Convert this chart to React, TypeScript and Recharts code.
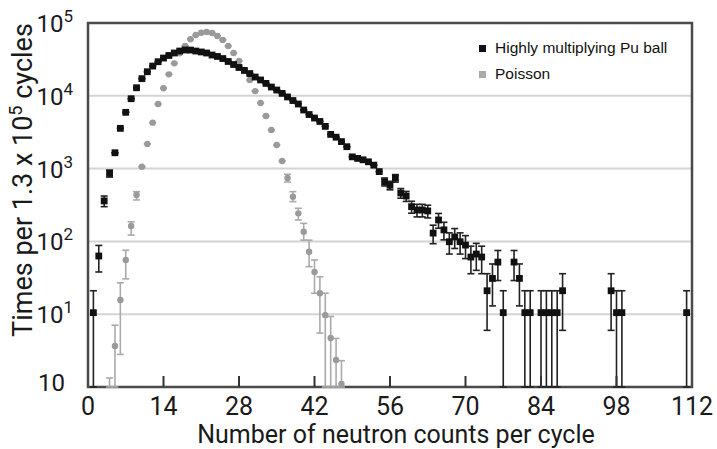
import React from 'react';
import {
  ScatterChart,
  Scatter,
  XAxis,
  YAxis,
  CartesianGrid,
  ErrorBar,
  ReferenceArea,
  Legend,
} from 'recharts';

// Highly multiplying Pu ball (black squares)
const puCounts = [
  1, 2, 3, 4, 5, 6, 7, 8, 9, 10, 11, 12, 13, 14, 15, 16, 17, 18, 19, 20,
  21, 22, 23, 24, 25, 26, 27, 28, 29, 30, 31, 32, 33, 34, 35, 36, 37, 38, 39, 40,
  41, 42, 43, 44, 45, 46, 47, 48, 49, 50, 51, 52, 53, 54, 55, 56, 57, 58, 59, 60,
  61, 62, 63, 64, 65, 66, 67, 68, 69, 70, 71, 72, 73, 74, 75, 76, 77, 79, 80, 81,
  82, 84, 85, 86, 87, 88, 97, 98, 99, 111,
];
const puTimes = [
  10.5, 63, 360, 860, 1650, 3570, 5930, 9120, 12900, 17200, 21400, 25600, 29400, 33000, 35800, 38700, 41200, 42600, 42500, 41200,
  40000, 38700, 36300, 34700, 32500, 29600, 26900, 24500, 22300, 20200, 18100, 16500, 14800, 13200, 12000, 10800, 9640, 8610, 7710, 6380,
  5530, 4950, 4440, 3800, 2950, 2700, 2350, 2000, 1450, 1380, 1320, 1240, 1115, 910, 660, 590, 740, 462, 420, 300,
  270, 270, 262, 130, 197, 144, 99, 115, 99, 89, 61, 67, 61, 21, 31, 52, 10.5, 52, 31, 10.5,
  10.5, 10.5, 10.5, 10.5, 10.5, 21, 21, 10.5, 10.5, 10.5,
];
const puErr: (number | null)[] = [
  10.5, 25, 60, 95, null, null, null, null, null, null, null, null, null, null, null, null, null, null, null, null,
  null, null, null, null, null, null, null, null, null, null, null, null, null, null, null, null, null, null, null, null,
  null, null, null, null, null, null, null, null, null, null, null, null, null, null, 83, 79, 88, 70, 66, 56,
  53, 53, 52, 37, 45, 39, 32, 35, 32, 31, 25, 27, 25, 15, 18, 23, 10.5, 23, 18, 10.5,
  10.5, 10.5, 10.5, 10.5, 10.5, 15, 15, 10.5, 10.5, 10.5,
];

// Poisson (grey dots)
const poCounts = [
  4, 5, 6, 7, 8, 9, 10, 11, 12, 13, 14, 15, 16, 17, 18, 19, 20, 21, 22, 23, 24, 25,
  26, 27, 28, 29, 30, 31, 32, 33, 34, 35, 36, 37, 38, 39, 40, 41, 42, 43, 44, 45, 46, 47,
];
const poTimes = [
  0.13, 3.66, 15.7, 55.6, 163, 433, 1060, 2180, 4280, 7710, 12700, 19700, 27900, 38400, 48300, 59700, 68400, 73600, 75200, 72900, 66300, 58400,
  48300, 38700, 30000, 22600, 16500, 11600, 7960, 5280, 3390, 2110, 1270, 745, 411, 243, 136, 72, 38, 19.4, 9.7, 4.7, 2.35, 1.1,
];
const poErrLow: (number | null)[] = [
  0, 3.66, 12.9, 25, 41, 62, null, null, null, null, null, null, null, null, null, null, null, null, null, null, null, null,
  null, null, null, null, null, null, null, null, null, null, null, 90, 59, 46, 32, 27, 18.6, 13.9, 9.7, 4.7, 2.35, 1.1,
];
const poErrHigh: (number | null)[] = [
  1.2, 3.4, 11.3, 20, 23, 49, null, null, null, null, null, null, null, null, null, null, null, null, null, null, null, null,
  null, null, null, null, null, null, null, null, null, null, null, 90, 71, 42, 41, 32, 17.6, 13.3, 9.7, 4.6, 2.3, 1.2,
];

const xTicks = [0, 14, 28, 42, 56, 70, 84, 98, 112];
const yTicks = [1, 10, 100, 1000, 10000, 100000];
const superDigits: Record<number, string> = { 1: '1', 2: '2', 3: '3', 4: '4', 5: '5' };

// error bars that run below the axis floor stop at the floor
const FLOOR = 1;
const clampLow = (v: number, lo: number) => (v - lo < FLOOR ? v - FLOOR : lo);

const puData = puCounts.map((x, i) => {
  const e = puErr[i];
  return { x, y: puTimes[i], err: e == null ? [0, 0] : [clampLow(puTimes[i], e), e] };
});
const poData = poCounts.map((x, i) => {
  const lo = poErrLow[i];
  const hi = poErrHigh[i];
  return { x, y: poTimes[i], err: lo == null || hi == null ? [0, 0] : [clampLow(poTimes[i], lo), hi] };
});

const FONT = 'Roboto, "Noto Sans", sans-serif';

const Square = (p: any) => (
  <rect x={p.cx - 3.4} y={p.cy - 3.4} width={6.8} height={6.8} fill="#111" />
);
const Dot = (p: any) => <circle cx={p.cx} cy={p.cy} r={3.2} fill="#9a9a9a" />;

const XTick = ({ x, y, payload }: any) => (
  <g>
    {payload.value > 0 && payload.value < 112 && (
      <line x1={x} x2={x} y1={y} y2={y - 11} stroke="#333" strokeWidth={2} />
    )}
    <text x={x} y={y + 27.5} textAnchor="middle" fontSize={25} fontFamily={FONT} fill="#1a1a1a">
      {payload.value}
    </text>
  </g>
);

const YTick = ({ x, y, payload }: any) => {
  const e = Math.round(Math.log10(payload.value));
  if (e === 0) {
    return (
      <text x={x - 23} y={y + 4} textAnchor="end" fontSize={24} fontFamily={FONT} fill="#1a1a1a">
        10
      </text>
    );
  }
  return (
    <text x={x - 15} y={y + 9} textAnchor="end" fontSize={24} fontFamily={FONT} fill="#1a1a1a">
      10
      <tspan dy={-10} fontSize={17}>
        {superDigits[e]}
      </tspan>
    </text>
  );
};

const LegendBox = () => (
  <div style={{ fontFamily: '"Liberation Sans", Arial, sans-serif', fontSize: 15.5, color: '#111', lineHeight: '26px', whiteSpace: 'nowrap' }}>
    <div>
      <span style={{ display: 'inline-block', width: 7, height: 7, background: '#111', marginRight: 9, verticalAlign: 'middle' }} />
      Highly multiplying Pu ball
    </div>
    <div>
      <span style={{ display: 'inline-block', width: 7, height: 7, background: '#aaa', marginRight: 9, verticalAlign: 'middle' }} />
      Poisson
    </div>
  </div>
);

export default function App() {
  return (
    <div style={{ position: 'absolute', left: 0, top: 0, background: '#fff' }}>
      <ScatterChart width={717} height={449} margin={{ top: 23, right: 25, bottom: 0, left: 0 }}>
        <CartesianGrid vertical={false} stroke="#d4d4d4" strokeWidth={2} />
        <XAxis
          type="number"
          dataKey="x"
          domain={[0, 112]}
          ticks={xTicks}
          height={62}
          axisLine={false}
          tickLine={false}
          tickSize={0}
          tickMargin={0}
          tick={<XTick />}
          interval={0}
          label={{
            content: () => (
              <text x={396} y={443} textAnchor="middle" fontSize={25} fontFamily={FONT} fill="#1a1a1a">
                Number of neutron counts per cycle
              </text>
            ),
          }}
        />
        <YAxis
          type="number"
          dataKey="y"
          scale="log"
          domain={[1, 100000]}
          allowDataOverflow
          ticks={yTicks}
          width={88}
          axisLine={false}
          tickLine={false}
          tickSize={0}
          tickMargin={0}
          tick={<YTick />}
          interval={0}
          label={{
            content: () => (
              <text
                transform="translate(32 180) rotate(-90)"
                textAnchor="middle"
                fontSize={27}
                fontFamily={FONT}
                fill="#1a1a1a"
              >
                Times per 1.3 x 10
                <tspan dy={-10} fontSize={18}>5</tspan>
                <tspan dy={10}> cycles</tspan>
              </text>
            ),
          }}
        />
        <ReferenceArea x1={0} x2={112} y1={1} y2={100000} fill="none" stroke="#4a4a4a" strokeWidth={2.5} />
        <Legend
          layout="vertical"
          align="center"
          verticalAlign="middle"
          content={<LegendBox />}
          wrapperStyle={{ top: 35, left: 479, width: 220, height: 56 }}
        />
        <Scatter name="Poisson" data={poData} shape={Dot} isAnimationActive={false}>
          <ErrorBar dataKey="err" direction="y" width={3.5} stroke="#aaa" strokeWidth={1.6} />
        </Scatter>
        <Scatter name="Highly multiplying Pu ball" data={puData} shape={Square} isAnimationActive={false}>
          <ErrorBar dataKey="err" direction="y" width={3.5} stroke="#222" strokeWidth={1.6} />
        </Scatter>
      </ScatterChart>
    </div>
  );
}
